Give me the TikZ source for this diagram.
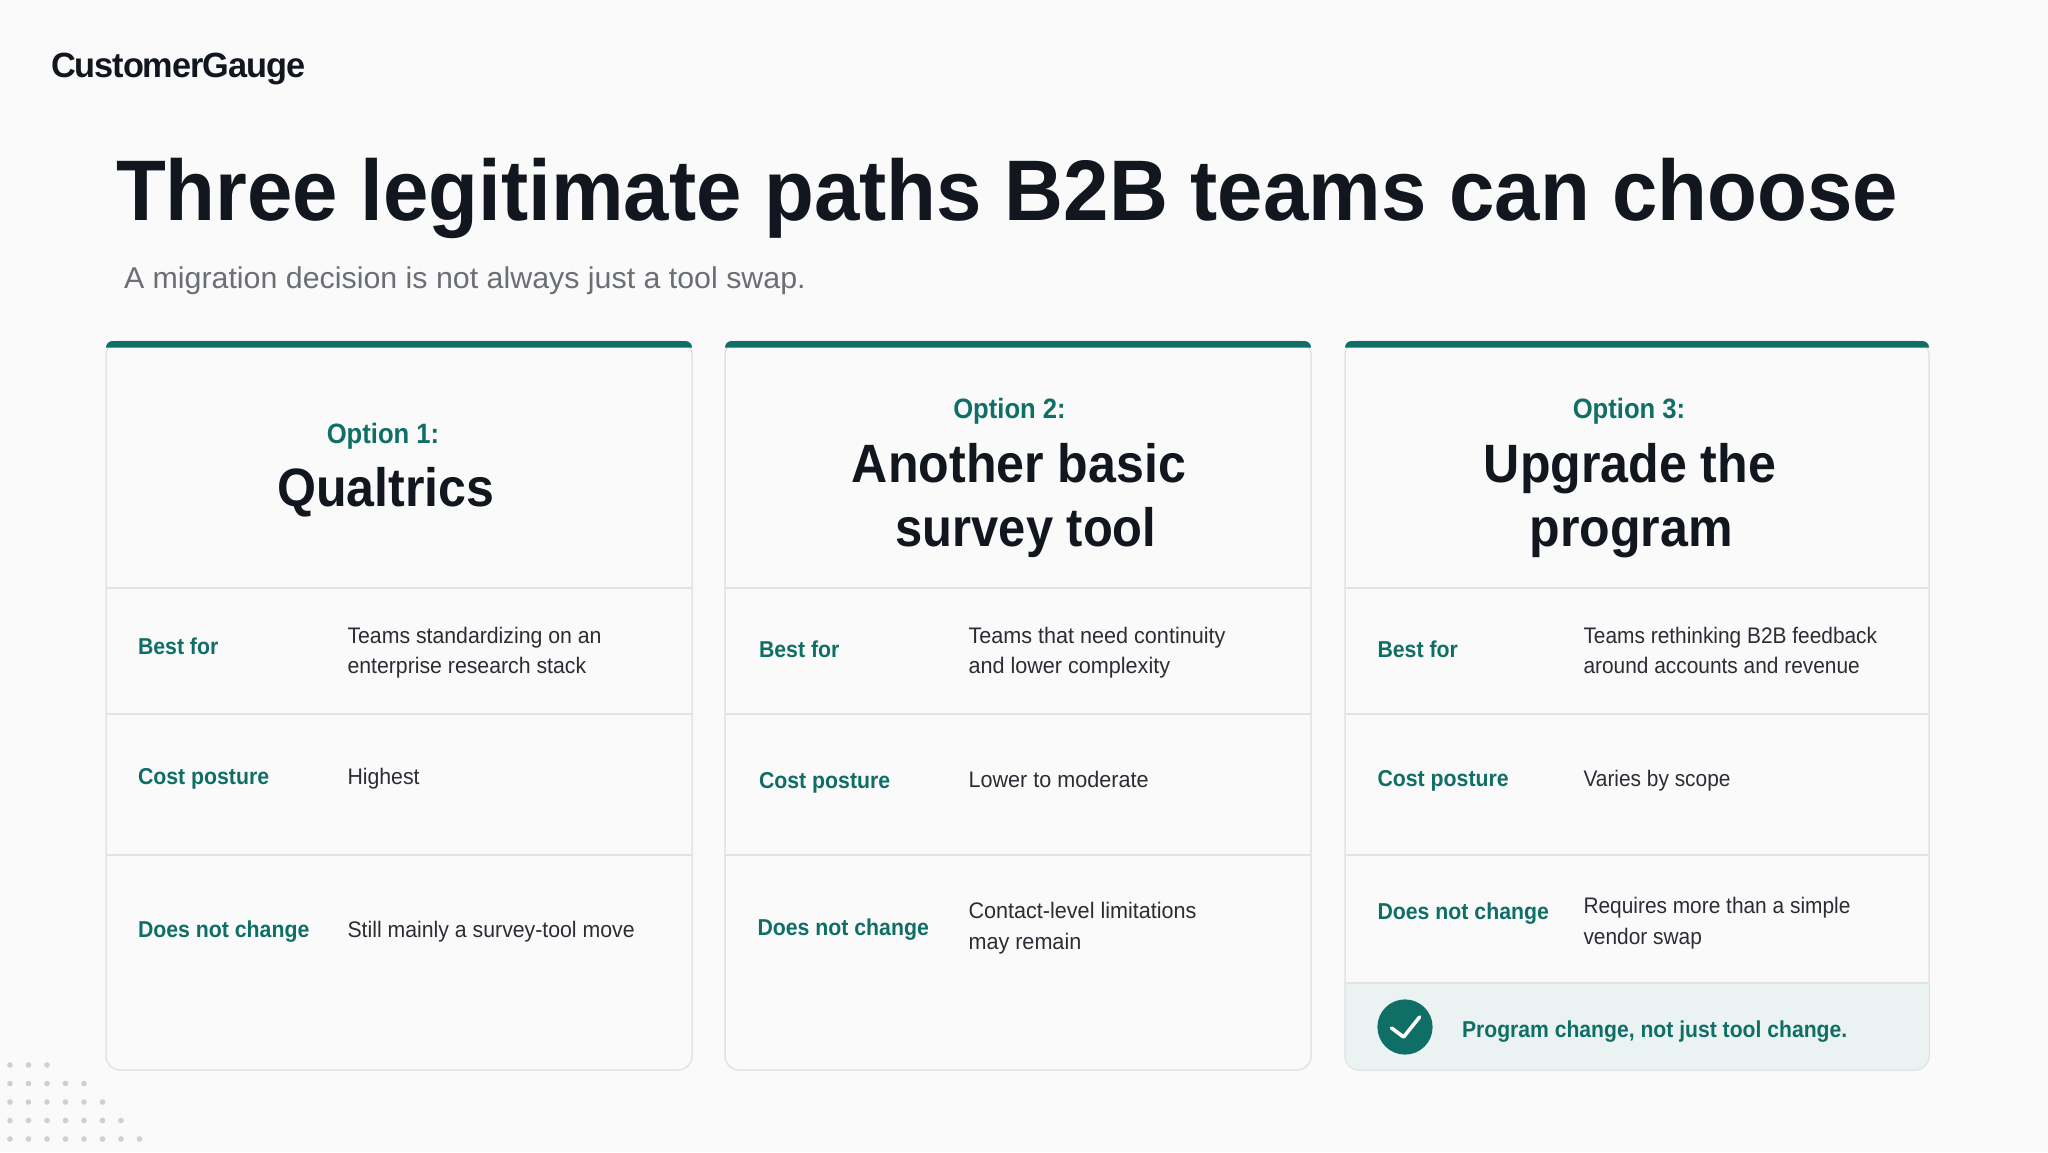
\documentclass[tikz,border=0pt]{standalone}
\usepackage{fontspec}
\setmainfont{Liberation Sans}
\definecolor{pagebg}{HTML}{FAFAFA}
\definecolor{ink}{HTML}{12161F}
\definecolor{teal}{HTML}{0F6F66}
\definecolor{bodyink}{HTML}{2A2D33}
\definecolor{subink}{HTML}{6B6E73}
\definecolor{rule}{HTML}{E2E4E4}
\definecolor{tint}{HTML}{EAF3F1}
\definecolor{dotc}{HTML}{C8D2D0}
\tikzset{
  txt/.style={inner sep=0pt,outer sep=0pt,anchor=base west},
  ctxt/.style={inner sep=0pt,outer sep=0pt,anchor=base},
  logo/.style={txt,text=ink,font=\fontsize{35}{35}\selectfont\bfseries\addfontfeature{LetterSpace=-3,FakeStretch=0.98}},
  maintitle/.style={txt,text=ink,font=\fontsize{86}{86}\selectfont\bfseries\addfontfeature{FakeStretch=0.949}},
  subtitle/.style={txt,text=subink,font=\fontsize{30}{30}\selectfont\addfontfeature{FakeStretch=1.012}},
  optlabel/.style={ctxt,text=teal,font=\fontsize{28}{28}\selectfont\bfseries\addfontfeature{FakeStretch=0.915}},
  cardtitle/.style={ctxt,text=ink,font=\fontsize{54}{54}\selectfont\bfseries\addfontfeature{FakeStretch=0.928}},
  cardtitlen/.style={ctxt,text=ink,font=\fontsize{54}{54}\selectfont\bfseries\addfontfeature{FakeStretch=0.905}},
  rowlabel/.style={txt,text=teal,font=\fontsize{23}{23}\selectfont\bfseries\addfontfeature{FakeStretch=0.925}},
  calltext/.style={txt,text=teal,font=\fontsize{23}{23}\selectfont\bfseries\addfontfeature{FakeStretch=0.919}},
  rowtexta/.style={txt,text=bodyink,font=\fontsize{22.5}{30}\selectfont\addfontfeature{FakeStretch=0.945}},
  rowtextb/.style={txt,text=bodyink,font=\fontsize{22.5}{30}\selectfont\addfontfeature{FakeStretch=0.96}},
  rowtextc/.style={txt,text=bodyink,font=\fontsize{22.5}{30}\selectfont\addfontfeature{FakeStretch=0.928}},
  card/.style={draw=rule,line width=1.5pt,fill=pagebg,rounded corners=14pt},
  divider/.style={draw=rule,line width=1.5pt},
  topbar/.style={fill=teal}
}
\begin{document}
\begin{tikzpicture}[x=1pt,y=-1pt]
\useasboundingbox (0,0) rectangle (2048,1152);
\fill[pagebg] (0,0) rectangle (2048,1152);
% dots
\foreach \yy/\n in {1065/3,1083.5/5,1102/6,1120.5/7,1139/8}{
  \foreach \i in {1,...,\n}{
    \fill[dotc] ({10+18.5*(\i-1)},\yy) circle (2.8);
  }
}
\node[logo] (logo) at (51,77) {CustomerGauge};
\node[maintitle] (title) at (116,220) {Three legitimate paths B2B teams can choose};
\node[subtitle] (sub) at (124,288) {A migration decision is not always just a tool swap.};
% cards
\foreach \xa/\xb in {106/692,725/1311,1345/1929}{
  \draw[card] (\xa,341) rectangle (\xb,1070);
  \fill[topbar] (\xa,347.5) arc (180:270:6.5) -- (\xb-6.5,341) arc (270:360:6.5) -- cycle;
  \draw[divider] (\xa,588) -- (\xb,588);
  \draw[divider] (\xa,714) -- (\xb,714);
  \draw[divider] (\xa,855) -- (\xb,855);
}
% tinted footer
\fill[tint] (1345.75,983) -- (1928.25,983) -- (1928.25,1056) arc (0:90:13.25) -- (1359,1069.25) arc (90:180:13.25) -- cycle;
\draw[divider] (1345,983) -- (1929,983);
% card 1
\node[optlabel] (o1) at (383,443) {Option 1:};
\node[cardtitle] (t1) at (386,506) {Qualtrics};
\node[rowlabel] (c1l1) at (138,654) {Best for};
\node[rowtexta] (c1v1) at (347.5,643) {Teams standardizing on an};
\node[rowtexta] (c1v1b) at (347.5,673.5) {enterprise research stack};
\node[rowlabel] (c1l2) at (138,784) {Cost posture};
\node[rowtexta] (c1v2) at (347.5,784) {Highest};
\node[rowlabel] (c1l3) at (138,937) {Does not change};
\node[rowtexta] (c1v3) at (347.5,937) {Still mainly a survey-tool move};
% card 2
\node[optlabel] (o2) at (1009.5,418.5) {Option 2:};
\node[cardtitle] (t2) at (1019,482) {Another basic};
\node[cardtitlen] (t2b) at (1026,546) {survey tool};
\node[rowlabel] (c2l1) at (759,657) {Best for};
\node[rowtextb] (c2v1) at (968.5,643) {Teams that need continuity};
\node[rowtextb] (c2v1b) at (968.5,673.5) {and lower complexity};
\node[rowlabel] (c2l2) at (759,788) {Cost posture};
\node[rowtextb] (c2v2) at (968.5,787.5) {Lower to moderate};
\node[rowlabel] (c2l3) at (757.5,935) {Does not change};
\node[rowtextb] (c2v3) at (968.5,918) {Contact-level limitations};
\node[rowtextb] (c2v3b) at (968.5,949) {may remain};
% card 3
\node[optlabel] (o3) at (1629,418.5) {Option 3:};
\node[cardtitle] (t3) at (1630,482) {Upgrade the};
\node[cardtitle] (t3b) at (1631,546) {program};
\node[rowlabel] (c3l1) at (1377.5,657) {Best for};
\node[rowtextc] (c3v1) at (1583.5,643) {Teams rethinking B2B feedback};
\node[rowtextc] (c3v1b) at (1583.5,673.5) {around accounts and revenue};
\node[rowlabel] (c3l2) at (1377.5,786) {Cost posture};
\node[rowtextc] (c3v2) at (1583.5,786) {Varies by scope};
\node[rowlabel] (c3l3) at (1377.5,919) {Does not change};
\node[rowtextc] (c3v3) at (1583.5,913) {Requires more than a simple};
\node[rowtextc] (c3v3b) at (1583.5,944) {vendor swap};
% callout
\fill[teal] (1405,1027) circle (27.6);
\draw[white,line width=3.6pt,line cap=round,line join=round] (1391.5,1028) -- (1403.6,1037) -- (1419.6,1017);
\node[calltext] (call) at (1462,1037) {Program change, not just tool change.};
\end{tikzpicture}
\end{document}
